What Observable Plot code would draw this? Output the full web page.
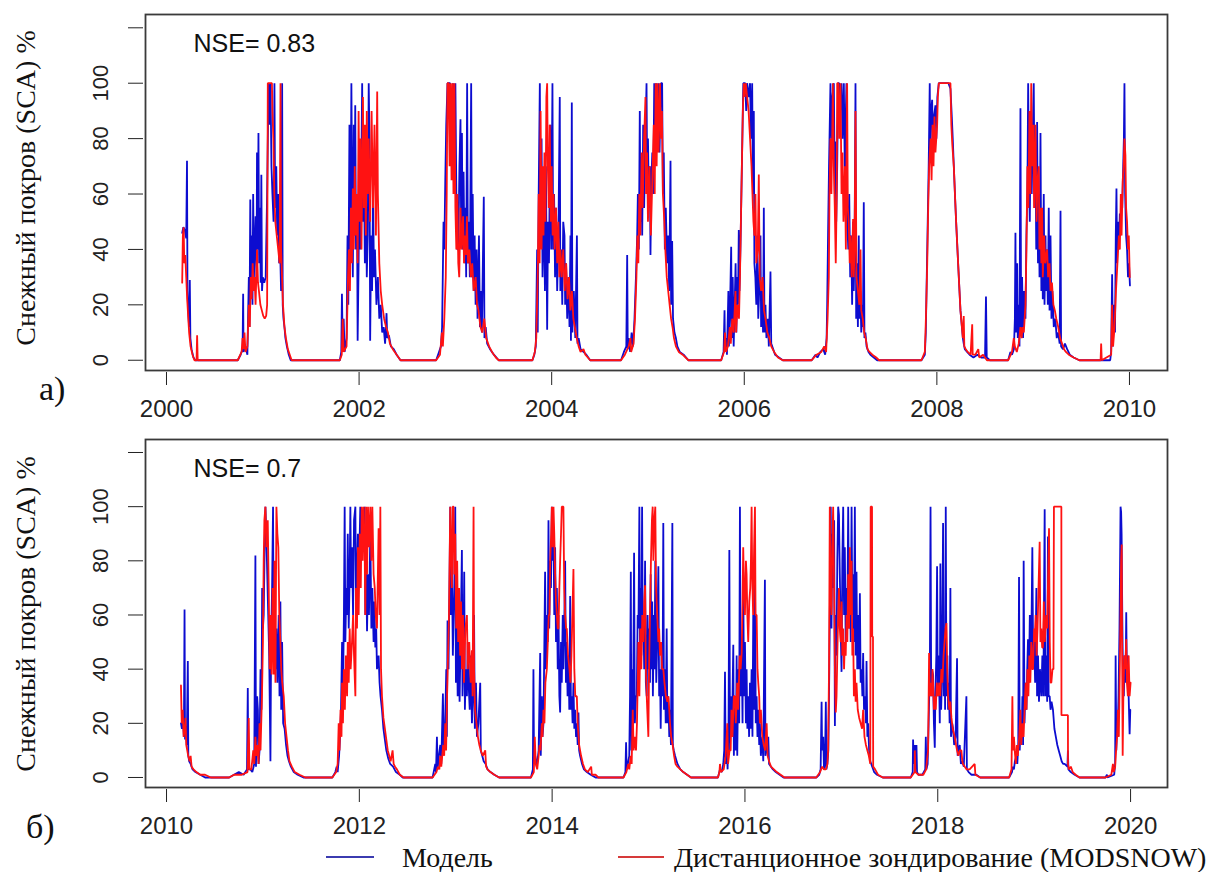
<!DOCTYPE html>
<html>
<head>
<meta charset="utf-8">
<script src="https://cdn.jsdelivr.net/npm/d3@7"></script>
<script src="https://cdn.jsdelivr.net/npm/@observablehq/plot@0.6"></script>
<style>
  body { margin: 0; background: #fff; }
  #root { position: relative; width: 1231px; height: 872px; background: #fff; overflow: hidden; }
  .abs { position: absolute; }
  .serif { font-family: "Liberation Serif", "Times New Roman", serif; color: #111; white-space: nowrap; }
  .ytitle { font-size: 28px; transform: translate(-50%, -50%) rotate(-90deg); }
  .plab { font-size: 34px; }
  .leg { font-size: 28px; line-height: 1; }
  .legline { height: 2px; }
</style>
</head>
<body>
<div id="root">
  <div id="pa" class="abs" style="left:0;top:0"></div>
  <div id="pb" class="abs" style="left:0;top:425px"></div>
  <div class="abs serif ytitle" style="left:26px;top:188px">Снежный покров (SCA) %</div>
  <div class="abs serif ytitle" style="left:26px;top:614px">Снежный покров (SCA) %</div>
  <div class="abs serif plab" style="left:39px;top:370px">а)</div>
  <div class="abs serif plab" style="left:26px;top:808px">б)</div>
  <div class="abs legline" style="left:326px;top:856px;width:48px;background:#3b3bb0"></div>
  <div class="abs serif leg" style="left:402px;top:844px">Модель</div>
  <div class="abs legline" style="left:618px;top:856px;width:46px;background:#d63a3a"></div>
  <div class="abs serif leg" style="left:674px;top:844px">Дистанционное зондирование (MODSNOW)</div>
</div>
<script>
// ---- Tick values and labels ----
const yTicks = [0, 20, 40, 60, 80, 100, 120];
const yTickLabels = [0, 20, 40, 60, 80, 100];
const xTicksA = [2000, 2002, 2004, 2006, 2008, 2010];
const xTicksB = [2010, 2012, 2014, 2016, 2018, 2020];
const nseA = "NSE= 0.83";
const nseB = "NSE= 0.7";

// ---- Panel a: model (blue), [decimal year, SCA %] ----
const modelA = [
[2000.163,46],[2000.175,48],[2000.19,47],[2000.205,44],[2000.213,72],[2000.218,25],[2000.225,18],[2000.235,12],[2000.242,29],[2000.248,8],[2000.26,4],[2000.28,1],[2000.30,0],
[2000.74,0],[2000.77,2],[2000.79,4],[2000.796,24],[2000.80,3],[2000.82,5],[2000.84,2],[2000.855,30],[2000.862,12],[2000.87,58],[2000.878,25],[2000.885,45],[2000.893,20],[2000.90,60],[2000.908,30],[2000.915,38],[2000.925,52],[2000.935,30],[2000.94,75],[2000.948,40],[2000.955,82],[2000.962,35],[2000.97,55],[2000.978,28],[2000.985,67],[2000.992,25],[2001.0,30],[2001.015,28],[2001.03,30],[2001.045,60],[2001.06,100],[2001.07,85],[2001.08,100],[2001.09,70],[2001.10,60],[2001.112,50],[2001.121,100],[2001.128,55],[2001.14,70],[2001.15,45],[2001.16,60],[2001.17,35],[2001.18,40],[2001.19,25],[2001.201,100],[2001.207,20],[2001.215,15],[2001.225,12],[2001.235,8],[2001.25,5],[2001.27,2],[2001.29,0],
[2001.80,0],[2001.815,3],[2001.822,24],[2001.83,5],[2001.84,15],[2001.85,3],[2001.87,8],[2001.88,45],[2001.888,20],[2001.90,85],[2001.91,40],[2001.92,100],[2001.928,60],[2001.935,30],[2001.945,85],[2001.952,45],[2001.96,92],[2001.968,40],[2001.978,60],[2001.985,7],[2001.995,35],[2002.005,75],[2002.015,40],[2002.032,100],[2002.04,50],[2002.05,70],[2002.06,35],[2002.07,60],[2002.08,30],[2002.09,45],[2002.10,100],[2002.108,80],[2002.115,7],[2002.125,45],[2002.135,25],[2002.145,60],[2002.155,30],[2002.165,40],[2002.18,20],[2002.195,30],[2002.21,15],[2002.225,20],[2002.24,10],[2002.255,12],[2002.27,6],[2002.285,17],[2002.292,8],[2002.31,9],[2002.33,5],[2002.36,4],[2002.39,2],[2002.43,0],
[2002.80,0],[2002.83,3],[2002.85,5],[2002.862,12],[2002.877,50],[2002.885,40],[2002.895,65],[2002.905,85],[2002.918,100],[2002.93,100],[2002.945,100],[2002.96,90],[2002.975,100],[2002.99,85],[2003.0,100],[2003.01,60],[2003.02,40],[2003.03,40],[2003.042,70],[2003.053,87],[2003.06,45],[2003.068,82],[2003.075,40],[2003.085,68],[2003.095,35],[2003.105,55],[2003.112,30],[2003.122,100],[2003.13,35],[2003.14,50],[2003.15,30],[2003.164,100],[2003.172,30],[2003.18,60],[2003.19,25],[2003.20,45],[2003.21,20],[2003.22,40],[2003.23,15],[2003.245,45],[2003.255,12],[2003.265,25],[2003.275,10],[2003.295,59],[2003.302,8],[2003.315,12],[2003.33,6],[2003.36,4],[2003.40,2],[2003.45,0],
[2003.80,0],[2003.82,2],[2003.835,5],[2003.849,40],[2003.855,10],[2003.865,60],[2003.877,100],[2003.885,50],[2003.895,80],[2003.905,30],[2003.918,60],[2003.93,25],[2003.94,70],[2003.953,11],[2003.962,50],[2003.972,35],[2003.985,85],[2003.995,40],[2004.008,100],[2004.015,40],[2004.025,60],[2004.035,30],[2004.045,55],[2004.057,25],[2004.07,45],[2004.084,95],[2004.09,25],[2004.10,40],[2004.11,20],[2004.12,50],[2004.133,45],[2004.14,20],[2004.15,35],[2004.161,15],[2004.175,30],[2004.185,12],[2004.195,45],[2004.2,7],[2004.209,93],[2004.215,10],[2004.23,25],[2004.245,8],[2004.262,45],[2004.268,6],[2004.28,8],[2004.30,4],[2004.33,3],[2004.36,2],[2004.40,0],
[2004.72,0],[2004.75,3],[2004.775,5],[2004.784,38],[2004.79,4],[2004.80,8],[2004.815,3],[2004.83,10],[2004.845,5],[2004.86,15],[2004.875,30],[2004.888,45],[2004.895,60],[2004.905,40],[2004.915,90],[2004.922,50],[2004.93,70],[2004.94,45],[2004.95,85],[2004.96,55],[2004.97,75],[2004.985,100],[2004.992,60],[2005.0,80],[2005.01,55],[2005.02,70],[2005.026,38],[2005.035,65],[2005.045,75],[2005.055,60],[2005.065,100],[2005.075,80],[2005.085,100],[2005.095,85],[2005.11,100],[2005.12,75],[2005.135,100],[2005.147,100],[2005.155,60],[2005.164,75],[2005.175,40],[2005.185,55],[2005.199,35],[2005.21,45],[2005.22,25],[2005.234,72],[2005.24,20],[2005.251,43],[2005.26,15],[2005.275,10],[2005.29,8],[2005.305,5],[2005.33,3],[2005.37,2],[2005.42,0],
[2005.76,0],[2005.785,3],[2005.795,18],[2005.80,4],[2005.81,8],[2005.82,2],[2005.835,25],[2005.84,5],[2005.85,15],[2005.864,41],[2005.87,8],[2005.88,30],[2005.89,5],[2005.90,20],[2005.91,35],[2005.918,10],[2005.926,30],[2005.935,20],[2005.943,47],[2005.95,25],[2005.96,40],[2005.97,60],[2005.98,80],[2005.99,100],[2006.0,100],[2006.01,100],[2006.02,90],[2006.03,100],[2006.045,95],[2006.06,100],[2006.07,80],[2006.082,100],[2006.09,60],[2006.099,90],[2006.105,35],[2006.115,30],[2006.125,20],[2006.135,45],[2006.145,15],[2006.155,25],[2006.168,45],[2006.175,12],[2006.185,25],[2006.195,10],[2006.203,55],[2006.21,10],[2006.22,20],[2006.23,8],[2006.245,15],[2006.255,5],[2006.272,32],[2006.28,6],[2006.30,4],[2006.32,2],[2006.36,1],[2006.40,0],
[2006.70,0],[2006.74,2],[2006.76,1],[2006.79,3],[2006.82,4],[2006.84,2],[2006.855,8],[2006.861,20],[2006.87,45],[2006.88,70],[2006.89,90],[2006.895,100],[2006.905,80],[2006.915,95],[2006.93,100],[2006.94,60],[2006.947,79],[2006.955,50],[2006.965,70],[2006.975,100],[2006.985,100],[2006.995,90],[2007.01,100],[2007.02,80],[2007.034,100],[2007.045,65],[2007.055,90],[2007.061,100],[2007.07,50],[2007.08,40],[2007.09,60],[2007.10,30],[2007.11,45],[2007.12,20],[2007.13,50],[2007.137,25],[2007.145,40],[2007.155,100],[2007.162,15],[2007.17,35],[2007.18,12],[2007.189,45],[2007.195,15],[2007.205,25],[2007.215,10],[2007.225,20],[2007.232,12],[2007.241,57],[2007.248,8],[2007.258,10],[2007.27,5],[2007.29,3],[2007.31,2],[2007.345,1],[2007.38,0],
[2007.84,0],[2007.875,2],[2007.885,10],[2007.895,30],[2007.905,50],[2007.915,70],[2007.926,100],[2007.932,75],[2007.94,90],[2007.951,94],[2007.96,75],[2007.97,88],[2007.985,92],[2007.995,80],[2008.005,95],[2008.02,100],[2008.04,100],[2008.06,100],[2008.08,100],[2008.10,100],[2008.12,100],[2008.141,98],[2008.155,88],[2008.165,80],[2008.176,70],[2008.19,58],[2008.2,50],[2008.211,42],[2008.225,32],[2008.235,25],[2008.245,18],[2008.26,12],[2008.27,8],[2008.279,6],[2008.29,4],[2008.314,3],[2008.34,2],[2008.38,1],[2008.42,2],[2008.46,1],[2008.50,1],[2008.51,23],[2008.518,1],[2008.55,0],
[2008.74,0],[2008.764,3],[2008.78,2],[2008.80,4],[2008.81,15],[2008.816,46],[2008.822,10],[2008.834,35],[2008.84,8],[2008.85,20],[2008.858,5],[2008.868,91],[2008.875,10],[2008.885,30],[2008.895,8],[2008.905,25],[2008.92,15],[2008.93,45],[2008.94,60],[2008.948,100],[2008.955,70],[2008.965,50],[2008.975,85],[2008.985,60],[2008.995,80],[2009.006,100],[2009.015,55],[2009.024,75],[2009.032,40],[2009.041,86],[2009.05,35],[2009.058,60],[2009.066,30],[2009.076,82],[2009.085,25],[2009.093,50],[2009.10,22],[2009.11,60],[2009.118,20],[2009.128,45],[2009.135,25],[2009.145,40],[2009.152,20],[2009.162,55],[2009.17,18],[2009.18,45],[2009.19,15],[2009.20,25],[2009.214,12],[2009.23,15],[2009.245,8],[2009.26,10],[2009.275,6],[2009.284,54],[2009.29,5],[2009.31,4],[2009.33,6],[2009.353,4],[2009.38,2],[2009.42,1],[2009.48,0],
[2009.80,0],[2009.81,3],[2009.82,31],[2009.828,5],[2009.84,20],[2009.85,10],[2009.858,45],[2009.865,62],[2009.872,35],[2009.88,50],[2009.89,40],[2009.9,53],[2009.907,45],[2009.915,60],[2009.925,55],[2009.935,70],[2009.942,80],[2009.948,100],[2009.955,60],[2009.965,45],[2009.975,40],[2009.985,30],[2009.995,35],[2010.005,27]
];

// ---- Panel a: remote sensing MODSNOW (red) ----
const modsA = [
[2000.163,28],[2000.17,45],[2000.178,48],[2000.185,35],[2000.195,38],[2000.205,30],[2000.215,22],[2000.225,16],[2000.235,10],[2000.25,5],[2000.27,2],[2000.29,0],[2000.312,0],[2000.318,9],[2000.324,0],
[2000.74,0],[2000.78,3],[2000.79,8],[2000.80,4],[2000.81,10],[2000.82,3],[2000.84,5],[2000.855,20],[2000.865,12],[2000.875,30],[2000.885,22],[2000.895,35],[2000.905,25],[2000.915,30],[2000.925,20],[2000.94,40],[2000.95,28],[2000.96,25],[2000.975,20],[2000.99,18],[2001.005,16],[2001.02,15],[2001.035,16],[2001.045,20],[2001.052,100],[2001.07,100],[2001.085,100],[2001.095,100],[2001.10,90],[2001.11,80],[2001.12,60],[2001.13,50],[2001.145,45],[2001.16,40],[2001.175,35],[2001.184,100],[2001.19,40],[2001.20,30],[2001.21,20],[2001.225,12],[2001.24,8],[2001.26,4],[2001.28,2],[2001.30,0],
[2001.80,0],[2001.82,2],[2001.83,15],[2001.84,3],[2001.87,5],[2001.885,30],[2001.895,40],[2001.905,25],[2001.915,55],[2001.925,35],[2001.935,62],[2001.945,40],[2001.955,70],[2001.965,45],[2001.975,60],[2001.985,35],[2001.995,90],[2002.005,50],[2002.015,80],[2002.025,40],[2002.04,95],[2002.05,55],[2002.06,85],[2002.07,45],[2002.08,90],[2002.09,60],[2002.10,80],[2002.115,50],[2002.13,90],[2002.145,55],[2002.16,85],[2002.175,45],[2002.188,97],[2002.195,60],[2002.21,35],[2002.225,25],[2002.24,20],[2002.26,15],[2002.28,12],[2002.30,10],[2002.32,6],[2002.35,4],[2002.39,2],[2002.43,0],
[2002.80,0],[2002.84,2],[2002.86,10],[2002.87,5],[2002.885,15],[2002.90,30],[2002.91,60],[2002.918,100],[2002.93,100],[2002.94,70],[2002.95,100],[2002.96,65],[2002.97,100],[2002.98,60],[2002.99,100],[2003.0,55],[2003.01,40],[2003.02,60],[2003.03,35],[2003.04,30],[2003.053,55],[2003.065,40],[2003.08,52],[2003.09,35],[2003.10,45],[2003.11,38],[2003.12,52],[2003.13,35],[2003.145,40],[2003.16,30],[2003.175,35],[2003.19,25],[2003.21,30],[2003.225,20],[2003.24,18],[2003.26,12],[2003.28,10],[2003.30,15],[2003.32,8],[2003.35,5],[2003.38,3],[2003.42,1],[2003.45,0],
[2003.80,0],[2003.825,3],[2003.84,8],[2003.855,30],[2003.865,60],[2003.875,35],[2003.885,90],[2003.895,40],[2003.905,70],[2003.915,45],[2003.925,75],[2003.935,50],[2003.945,95],[2003.953,100],[2003.96,70],[2003.97,55],[2003.98,85],[2003.99,50],[2004.0,70],[2004.01,45],[2004.02,60],[2004.03,40],[2004.045,55],[2004.057,35],[2004.07,50],[2004.08,30],[2004.091,40],[2004.105,30],[2004.12,40],[2004.135,25],[2004.15,35],[2004.165,22],[2004.18,30],[2004.195,18],[2004.21,25],[2004.225,15],[2004.24,12],[2004.26,8],[2004.28,5],[2004.30,3],[2004.33,4],[2004.35,2],[2004.40,0],
[2004.72,0],[2004.76,2],[2004.80,5],[2004.818,8],[2004.825,3],[2004.85,6],[2004.865,15],[2004.88,30],[2004.89,45],[2004.90,35],[2004.91,60],[2004.92,45],[2004.935,75],[2004.945,55],[2004.96,80],[2004.974,95],[2004.98,60],[2004.99,75],[2005.0,50],[2005.015,70],[2005.03,45],[2005.045,65],[2005.06,85],[2005.07,60],[2005.08,100],[2005.09,70],[2005.10,100],[2005.11,75],[2005.125,100],[2005.135,80],[2005.145,90],[2005.155,60],[2005.17,50],[2005.18,40],[2005.195,30],[2005.21,25],[2005.225,20],[2005.24,15],[2005.255,12],[2005.27,8],[2005.29,5],[2005.32,3],[2005.36,2],[2005.42,0],
[2005.76,0],[2005.79,3],[2005.80,10],[2005.81,3],[2005.83,5],[2005.85,12],[2005.86,6],[2005.875,15],[2005.89,10],[2005.909,25],[2005.915,10],[2005.93,20],[2005.945,15],[2005.955,30],[2005.965,50],[2005.975,70],[2005.985,90],[2005.995,100],[2006.005,95],[2006.015,100],[2006.03,95],[2006.045,90],[2006.06,80],[2006.075,70],[2006.085,60],[2006.095,50],[2006.105,45],[2006.116,60],[2006.125,35],[2006.14,40],[2006.151,67],[2006.16,30],[2006.175,25],[2006.19,30],[2006.205,18],[2006.22,15],[2006.24,10],[2006.26,8],[2006.28,5],[2006.31,3],[2006.35,1],[2006.40,0],
[2006.70,0],[2006.75,2],[2006.80,3],[2006.83,5],[2006.85,3],[2006.865,15],[2006.878,30],[2006.885,60],[2006.895,80],[2006.905,60],[2006.913,80],[2006.92,100],[2006.93,70],[2006.94,55],[2006.95,35],[2006.96,60],[2006.965,100],[2006.975,100],[2006.985,80],[2006.999,100],[2007.01,60],[2007.02,75],[2007.03,50],[2007.045,70],[2007.055,40],[2007.068,100],[2007.075,55],[2007.085,50],[2007.095,35],[2007.103,45],[2007.115,30],[2007.13,51],[2007.137,30],[2007.145,40],[2007.155,90],[2007.165,30],[2007.18,25],[2007.195,20],[2007.207,40],[2007.215,18],[2007.23,15],[2007.245,10],[2007.26,8],[2007.28,4],[2007.30,3],[2007.33,2],[2007.37,1],[2007.40,0],
[2007.84,0],[2007.875,3],[2007.882,10],[2007.89,20],[2007.90,35],[2007.91,55],[2007.92,70],[2007.935,80],[2007.945,65],[2007.955,85],[2007.965,70],[2007.975,88],[2007.985,75],[2008.003,85],[2008.01,95],[2008.02,100],[2008.04,100],[2008.06,100],[2008.08,100],[2008.10,100],[2008.12,100],[2008.141,100],[2008.15,85],[2008.16,78],[2008.176,70],[2008.19,58],[2008.2,50],[2008.211,42],[2008.225,32],[2008.235,25],[2008.245,18],[2008.26,12],[2008.27,8],[2008.279,16],[2008.285,5],[2008.30,4],[2008.32,3],[2008.35,2],[2008.367,13],[2008.372,2],[2008.40,2],[2008.43,4],[2008.44,1],[2008.48,2],[2008.52,0],
[2008.74,0],[2008.78,3],[2008.799,8],[2008.81,5],[2008.83,3],[2008.85,6],[2008.868,12],[2008.88,8],[2008.89,12],[2008.903,10],[2008.92,20],[2008.93,40],[2008.94,70],[2008.95,55],[2008.962,90],[2008.972,60],[2008.98,100],[2008.99,70],[2009.0,85],[2009.01,55],[2009.024,85],[2009.035,50],[2009.045,65],[2009.058,70],[2009.065,40],[2009.075,55],[2009.085,35],[2009.093,55],[2009.10,30],[2009.115,45],[2009.125,35],[2009.145,40],[2009.155,30],[2009.17,35],[2009.18,25],[2009.195,28],[2009.21,20],[2009.225,18],[2009.24,15],[2009.26,12],[2009.28,8],[2009.30,6],[2009.32,4],[2009.34,3],[2009.37,2],[2009.42,1],[2009.48,0],
[2009.70,0],[2009.706,6],[2009.712,0],[2009.81,2],[2009.82,20],[2009.83,5],[2009.845,12],[2009.86,25],[2009.875,35],[2009.89,45],[2009.90,40],[2009.91,60],[2009.918,45],[2009.93,65],[2009.94,70],[2009.948,80],[2009.958,74],[2009.965,55],[2009.975,50],[2009.985,40],[2009.993,45],[2010.003,30]
];

// ---- Panel б: model (blue) ----
const modelB = [
[2010.15,20],[2010.16,18],[2010.17,22],[2010.18,15],[2010.187,62],[2010.192,14],[2010.20,19],[2010.21,12],[2010.221,43],[2010.226,8],[2010.235,6],[2010.25,5],[2010.27,3],[2010.30,2],[2010.35,1],[2010.40,0],
[2010.65,0],[2010.70,1],[2010.75,2],[2010.80,1],[2010.835,3],[2010.843,33],[2010.848,3],[2010.87,3],[2010.89,2],[2010.91,5],[2010.922,82],[2010.928,4],[2010.94,30],[2010.948,25],[2010.955,5],[2010.965,10],[2010.975,40],[2010.985,25],[2010.992,70],[2011.0,55],[2011.008,60],[2011.018,85],[2011.026,100],[2011.035,90],[2011.045,75],[2011.055,60],[2011.065,45],[2011.078,6],[2011.085,50],[2011.095,70],[2011.105,100],[2011.112,45],[2011.12,60],[2011.13,40],[2011.14,55],[2011.15,35],[2011.164,60],[2011.172,30],[2011.181,65],[2011.19,25],[2011.199,50],[2011.21,20],[2011.225,18],[2011.24,12],[2011.255,8],[2011.27,6],[2011.29,4],[2011.32,2],[2011.36,1],[2011.42,0],
[2011.72,0],[2011.751,2],[2011.765,4],[2011.775,2],[2011.79,8],[2011.80,15],[2011.81,25],[2011.821,50],[2011.83,30],[2011.84,60],[2011.848,100],[2011.855,50],[2011.865,70],[2011.873,60],[2011.88,90],[2011.89,55],[2011.9,75],[2011.907,100],[2011.915,70],[2011.924,85],[2011.935,60],[2011.945,95],[2011.959,100],[2011.965,65],[2011.976,75],[2011.985,90],[2011.993,70],[2012.01,100],[2012.02,80],[2012.03,95],[2012.045,85],[2012.055,100],[2012.062,60],[2012.07,80],[2012.08,54],[2012.09,75],[2012.1,60],[2012.114,90],[2012.125,55],[2012.135,70],[2012.148,50],[2012.155,65],[2012.166,48],[2012.175,55],[2012.183,40],[2012.2,45],[2012.21,35],[2012.22,30],[2012.235,25],[2012.25,18],[2012.265,14],[2012.28,10],[2012.3,7],[2012.32,5],[2012.35,4],[2012.38,2],[2012.42,1],[2012.45,0],
[2012.76,0],[2012.788,5],[2012.795,2],[2012.805,15],[2012.812,3],[2012.825,8],[2012.84,12],[2012.85,5],[2012.867,31],[2012.875,10],[2012.89,20],[2012.902,40],[2012.908,15],[2012.915,58],[2012.925,40],[2012.935,70],[2012.943,100],[2012.95,60],[2012.96,80],[2012.97,45],[2012.985,70],[2012.995,100],[2013.002,35],[2013.012,60],[2013.02,30],[2013.029,55],[2013.04,28],[2013.05,50],[2013.064,84],[2013.07,30],[2013.08,45],[2013.088,76],[2013.095,25],[2013.105,40],[2013.116,30],[2013.125,50],[2013.133,35],[2013.145,25],[2013.155,45],[2013.168,20],[2013.18,30],[2013.19,60],[2013.198,18],[2013.21,35],[2013.22,15],[2013.235,20],[2013.254,35],[2013.26,10],[2013.275,8],[2013.29,6],[2013.31,5],[2013.33,3],[2013.36,2],[2013.4,1],[2013.45,0],
[2013.78,0],[2013.80,3],[2013.806,40],[2013.812,5],[2013.825,8],[2013.841,4],[2013.86,10],[2013.876,46],[2013.882,8],[2013.893,30],[2013.9,15],[2013.91,20],[2013.918,45],[2013.927,76],[2013.935,40],[2013.945,60],[2013.955,50],[2013.962,95],[2013.97,55],[2013.98,80],[2013.988,70],[2013.997,100],[2014.005,80],[2014.014,90],[2014.022,60],[2014.031,85],[2014.04,50],[2014.049,70],[2014.058,40],[2014.066,60],[2014.075,30],[2014.083,24],[2014.092,50],[2014.1,35],[2014.11,60],[2014.117,40],[2014.125,55],[2014.135,80],[2014.143,35],[2014.152,50],[2014.16,30],[2014.17,45],[2014.178,25],[2014.187,67],[2014.195,25],[2014.204,30],[2014.212,20],[2014.221,35],[2014.23,18],[2014.238,25],[2014.248,15],[2014.256,20],[2014.265,12],[2014.273,24],[2014.28,10],[2014.29,8],[2014.31,5],[2014.33,3],[2014.36,2],[2014.4,1],[2014.45,0],
[2014.74,0],[2014.76,2],[2014.767,13],[2014.773,3],[2014.785,5],[2014.8,8],[2014.808,30],[2014.816,76],[2014.822,10],[2014.83,40],[2014.838,15],[2014.85,83],[2014.858,20],[2014.87,30],[2014.878,30],[2014.887,60],[2014.895,55],[2014.905,100],[2014.912,40],[2014.92,70],[2014.925,45],[2014.933,100],[2014.94,50],[2014.946,60],[2014.955,40],[2014.964,80],[2014.972,35],[2014.981,30],[2014.99,60],[2014.998,40],[2015.008,55],[2015.015,35],[2015.022,75],[2015.03,40],[2015.038,65],[2015.045,30],[2015.055,60],[2015.062,40],[2015.07,80],[2015.08,35],[2015.09,50],[2015.102,78],[2015.11,30],[2015.119,40],[2015.126,18],[2015.135,45],[2015.145,30],[2015.153,94],[2015.16,25],[2015.17,40],[2015.178,20],[2015.188,55],[2015.195,20],[2015.205,30],[2015.215,15],[2015.223,25],[2015.232,12],[2015.247,94],[2015.252,12],[2015.262,10],[2015.275,8],[2015.3,5],[2015.33,3],[2015.36,2],[2015.4,1],[2015.44,0],
[2015.72,0],[2015.741,3],[2015.76,2],[2015.775,5],[2015.785,10],[2015.793,39],[2015.8,5],[2015.81,12],[2015.82,3],[2015.83,20],[2015.838,84],[2015.845,10],[2015.852,30],[2015.865,15],[2015.879,49],[2015.885,8],[2015.896,30],[2015.905,10],[2015.914,45],[2015.92,8],[2015.931,40],[2015.94,20],[2015.948,100],[2015.955,30],[2015.966,50],[2015.975,20],[2015.982,76],[2015.99,30],[2016.0,50],[2016.01,20],[2016.017,40],[2016.025,18],[2016.034,30],[2016.043,15],[2016.052,35],[2016.06,18],[2016.069,40],[2016.078,15],[2016.086,60],[2016.095,25],[2016.104,75],[2016.112,20],[2016.121,30],[2016.13,15],[2016.138,25],[2016.148,12],[2016.155,20],[2016.165,8],[2016.18,15],[2016.19,6],[2016.207,73],[2016.212,8],[2016.225,10],[2016.242,15],[2016.25,5],[2016.27,4],[2016.29,3],[2016.32,2],[2016.36,1],[2016.4,0],
[2016.74,0],[2016.77,1],[2016.785,3],[2016.795,28],[2016.8,10],[2016.812,15],[2016.82,3],[2016.83,5],[2016.839,28],[2016.845,3],[2016.855,5],[2016.865,10],[2016.875,40],[2016.88,60],[2016.89,100],[2016.898,55],[2016.905,90],[2016.915,70],[2016.925,95],[2016.933,19],[2016.94,60],[2016.95,45],[2016.958,80],[2016.967,100],[2016.975,97],[2016.984,75],[2016.993,55],[2017.002,39],[2017.01,80],[2017.019,100],[2017.028,60],[2017.036,85],[2017.045,50],[2017.054,70],[2017.062,60],[2017.071,100],[2017.08,55],[2017.088,80],[2017.097,50],[2017.106,100],[2017.114,60],[2017.122,75],[2017.13,50],[2017.14,100],[2017.148,45],[2017.157,76],[2017.165,40],[2017.175,60],[2017.183,40],[2017.192,68],[2017.2,35],[2017.21,40],[2017.218,30],[2017.226,46],[2017.235,25],[2017.245,30],[2017.255,20],[2017.261,43],[2017.27,15],[2017.278,20],[2017.288,10],[2017.3,6],[2017.32,4],[2017.34,2],[2017.37,1],[2017.43,0],
[2017.72,0],[2017.74,2],[2017.744,14],[2017.75,5],[2017.762,12],[2017.77,3],[2017.779,12],[2017.785,2],[2017.8,1],[2017.84,1],[2017.87,3],[2017.876,15],[2017.882,3],[2017.895,5],[2017.905,20],[2017.918,40],[2017.925,100],[2017.932,30],[2017.94,40],[2017.951,38],[2017.96,20],[2017.969,11],[2017.975,30],[2017.985,45],[2017.993,78],[2018.0,30],[2018.01,45],[2018.021,20],[2018.027,79],[2018.035,25],[2018.045,40],[2018.055,94],[2018.062,30],[2018.07,55],[2018.076,25],[2018.083,100],[2018.09,30],[2018.1,45],[2018.107,25],[2018.115,35],[2018.123,20],[2018.131,70],[2018.137,15],[2018.15,20],[2018.159,18],[2018.17,12],[2018.185,15],[2018.2,44],[2018.206,8],[2018.215,10],[2018.228,12],[2018.24,5],[2018.255,6],[2018.27,4],[2018.297,30],[2018.302,3],[2018.32,2],[2018.35,1],[2018.4,1],[2018.44,0],
[2018.74,0],[2018.77,2],[2018.78,4],[2018.79,3],[2018.8,6],[2018.815,8],[2018.825,5],[2018.835,12],[2018.843,74],[2018.85,10],[2018.86,20],[2018.87,15],[2018.878,30],[2018.885,12],[2018.891,80],[2018.9,20],[2018.91,35],[2018.92,25],[2018.928,40],[2018.936,51],[2018.945,35],[2018.955,60],[2018.965,40],[2018.972,55],[2018.981,85],[2018.99,40],[2019.0,50],[2019.01,35],[2019.023,70],[2019.03,30],[2019.04,45],[2019.05,28],[2019.06,40],[2019.074,30],[2019.085,45],[2019.095,30],[2019.109,99],[2019.115,30],[2019.126,45],[2019.135,28],[2019.143,89],[2019.15,30],[2019.161,30],[2019.17,25],[2019.18,28],[2019.195,25],[2019.21,18],[2019.225,15],[2019.24,12],[2019.255,10],[2019.27,8],[2019.285,6],[2019.3,5],[2019.316,5],[2019.345,4],[2019.35,10],[2019.355,3],[2019.38,2],[2019.42,1],[2019.47,0],
[2019.74,0],[2019.755,1],[2019.76,0],[2019.83,1],[2019.84,5],[2019.845,45],[2019.852,10],[2019.858,20],[2019.865,15],[2019.875,30],[2019.885,55],[2019.896,100],[2019.902,98],[2019.907,90],[2019.914,60],[2019.92,40],[2019.93,30],[2019.94,45],[2019.948,35],[2019.955,61],[2019.962,35],[2019.972,45],[2019.98,30],[2019.99,16],[2019.997,25]
];

// ---- Panel б: remote sensing MODSNOW (red) ----
const modsB = [
[2010.15,34],[2010.158,20],[2010.168,25],[2010.178,15],[2010.19,18],[2010.197,22],[2010.205,12],[2010.215,10],[2010.225,8],[2010.24,6],[2010.25,8],[2010.26,4],[2010.28,3],[2010.31,2],[2010.35,1],[2010.40,1],[2010.46,0],
[2010.65,0],[2010.70,1],[2010.78,1],[2010.84,2],[2010.853,22],[2010.86,3],[2010.88,3],[2010.90,10],[2010.91,5],[2010.922,15],[2010.93,8],[2010.94,12],[2010.955,5],[2010.965,20],[2010.975,10],[2010.99,30],[2011.0,50],[2011.008,80],[2011.015,95],[2011.026,100],[2011.035,85],[2011.05,95],[2011.06,70],[2011.07,40],[2011.08,60],[2011.09,38],[2011.1,70],[2011.112,38],[2011.12,80],[2011.13,35],[2011.14,100],[2011.15,90],[2011.16,85],[2011.17,60],[2011.181,50],[2011.19,40],[2011.2,35],[2011.216,30],[2011.23,20],[2011.245,15],[2011.26,10],[2011.275,6],[2011.3,4],[2011.33,2],[2011.38,1],[2011.44,0],
[2011.72,0],[2011.76,2],[2011.775,5],[2011.786,20],[2011.795,10],[2011.805,25],[2011.815,15],[2011.821,35],[2011.83,20],[2011.84,40],[2011.85,25],[2011.86,45],[2011.873,30],[2011.88,50],[2011.89,35],[2011.9,55],[2011.91,40],[2011.924,50],[2011.935,60],[2011.945,45],[2011.959,30],[2011.965,70],[2011.976,55],[2011.985,85],[2011.993,60],[2012.005,90],[2012.015,70],[2012.025,100],[2012.035,80],[2012.045,100],[2012.055,85],[2012.062,60],[2012.07,100],[2012.08,75],[2012.09,100],[2012.1,85],[2012.114,100],[2012.125,80],[2012.135,100],[2012.148,75],[2012.16,70],[2012.17,60],[2012.183,55],[2012.2,92],[2012.21,60],[2012.218,100],[2012.225,40],[2012.235,30],[2012.25,22],[2012.265,18],[2012.28,14],[2012.295,10],[2012.31,8],[2012.325,6],[2012.345,10],[2012.356,5],[2012.37,4],[2012.39,3],[2012.42,1],[2012.46,0],
[2012.76,0],[2012.80,2],[2012.815,4],[2012.83,3],[2012.839,8],[2012.85,4],[2012.87,12],[2012.88,8],[2012.891,20],[2012.9,10],[2012.91,30],[2012.92,45],[2012.93,60],[2012.943,100],[2012.95,85],[2012.96,70],[2012.968,100],[2012.977,100],[2012.985,75],[2012.995,90],[2013.005,55],[2013.015,80],[2013.025,50],[2013.035,70],[2013.045,45],[2013.055,65],[2013.065,40],[2013.075,60],[2013.085,35],[2013.1,55],[2013.116,60],[2013.125,40],[2013.14,50],[2013.155,35],[2013.168,47],[2013.175,30],[2013.185,100],[2013.19,40],[2013.2,25],[2013.215,20],[2013.23,15],[2013.245,12],[2013.26,10],[2013.28,8],[2013.306,10],[2013.315,4],[2013.33,3],[2013.36,2],[2013.4,1],[2013.45,0],
[2013.78,0],[2013.81,2],[2013.82,15],[2013.83,5],[2013.845,3],[2013.86,8],[2013.87,12],[2013.88,10],[2013.893,20],[2013.9,15],[2013.91,25],[2013.92,20],[2013.93,35],[2013.945,40],[2013.955,50],[2013.965,60],[2013.972,60],[2013.98,80],[2013.99,90],[2013.997,100],[2014.005,85],[2014.014,100],[2014.022,90],[2014.031,75],[2014.04,65],[2014.049,60],[2014.058,55],[2014.066,55],[2014.075,70],[2014.083,80],[2014.092,90],[2014.1,100],[2014.108,100],[2014.117,100],[2014.125,70],[2014.135,60],[2014.145,55],[2014.152,55],[2014.165,45],[2014.18,40],[2014.19,35],[2014.2,45],[2014.21,60],[2014.221,77],[2014.23,40],[2014.24,30],[2014.256,30],[2014.265,20],[2014.28,12],[2014.3,8],[2014.32,5],[2014.34,3],[2014.37,2],[2014.405,4],[2014.412,1],[2014.45,1],[2014.48,0],
[2014.74,0],[2014.77,2],[2014.79,5],[2014.8,3],[2014.815,8],[2014.825,5],[2014.836,25],[2014.845,10],[2014.86,15],[2014.87,10],[2014.88,20],[2014.895,50],[2014.905,30],[2014.915,55],[2014.925,40],[2014.935,60],[2014.945,50],[2014.955,65],[2014.964,71],[2014.972,40],[2014.981,30],[2014.998,15],[2015.005,40],[2015.015,60],[2015.025,80],[2015.035,95],[2015.043,100],[2015.05,80],[2015.06,95],[2015.07,100],[2015.078,70],[2015.09,60],[2015.102,50],[2015.11,55],[2015.119,45],[2015.13,50],[2015.14,40],[2015.153,40],[2015.165,35],[2015.18,30],[2015.195,28],[2015.205,30],[2015.215,25],[2015.223,20],[2015.235,15],[2015.25,12],[2015.265,8],[2015.28,5],[2015.3,4],[2015.33,3],[2015.36,2],[2015.4,1],[2015.44,0],
[2015.72,0],[2015.735,2],[2015.741,5],[2015.75,2],[2015.78,3],[2015.8,8],[2015.817,20],[2015.825,5],[2015.84,10],[2015.852,10],[2015.86,25],[2015.87,15],[2015.885,30],[2015.896,30],[2015.905,20],[2015.92,35],[2015.93,25],[2015.945,45],[2015.955,40],[2015.966,46],[2015.975,65],[2015.982,85],[2015.99,70],[2016.0,60],[2016.01,80],[2016.017,75],[2016.025,60],[2016.034,50],[2016.045,65],[2016.055,70],[2016.062,80],[2016.069,100],[2016.075,75],[2016.085,60],[2016.095,85],[2016.104,100],[2016.11,60],[2016.121,60],[2016.13,40],[2016.138,35],[2016.148,30],[2016.155,20],[2016.165,25],[2016.18,15],[2016.195,12],[2016.21,10],[2016.225,20],[2016.235,8],[2016.25,6],[2016.27,4],[2016.3,3],[2016.33,2],[2016.37,1],[2016.41,0],
[2016.74,0],[2016.78,2],[2016.8,4],[2016.82,3],[2016.84,3],[2016.855,5],[2016.863,10],[2016.872,40],[2016.88,100],[2016.888,70],[2016.898,60],[2016.905,85],[2016.915,100],[2016.925,70],[2016.933,40],[2016.942,24],[2016.95,30],[2016.958,45],[2016.967,60],[2016.975,70],[2016.984,55],[2016.993,50],[2017.002,65],[2017.01,45],[2017.019,55],[2017.028,40],[2017.036,50],[2017.045,45],[2017.054,60],[2017.062,50],[2017.071,75],[2017.08,55],[2017.088,85],[2017.097,60],[2017.106,80],[2017.114,45],[2017.122,55],[2017.13,30],[2017.14,40],[2017.148,28],[2017.157,35],[2017.17,25],[2017.185,22],[2017.2,20],[2017.215,18],[2017.226,25],[2017.24,15],[2017.255,12],[2017.27,10],[2017.285,8],[2017.3,5],[2017.304,100],[2017.318,100],[2017.32,52],[2017.328,52],[2017.33,4],[2017.35,3],[2017.38,1],[2017.43,0],
[2017.72,0],[2017.76,2],[2017.762,10],[2017.768,2],[2017.8,1],[2017.85,1],[2017.88,3],[2017.89,7],[2017.9,10],[2017.91,46],[2017.918,30],[2017.925,35],[2017.938,30],[2017.945,40],[2017.951,35],[2017.96,25],[2017.97,30],[2017.979,25],[2017.99,35],[2018.003,30],[2018.015,35],[2018.025,30],[2018.038,40],[2018.048,35],[2018.06,45],[2018.07,50],[2018.08,55],[2018.09,57],[2018.098,40],[2018.107,30],[2018.12,25],[2018.13,28],[2018.142,22],[2018.155,18],[2018.176,15],[2018.19,12],[2018.2,10],[2018.215,8],[2018.228,10],[2018.245,10],[2018.255,6],[2018.262,5],[2018.28,4],[2018.3,3],[2018.33,3],[2018.383,5],[2018.39,1],[2018.44,0],
[2018.74,0],[2018.765,3],[2018.774,30],[2018.78,10],[2018.79,15],[2018.798,10],[2018.81,5],[2018.82,12],[2018.83,8],[2018.845,15],[2018.857,25],[2018.865,12],[2018.88,20],[2018.89,15],[2018.9,25],[2018.912,35],[2018.92,25],[2018.93,40],[2018.94,30],[2018.95,45],[2018.96,35],[2018.97,50],[2018.98,40],[2018.988,40],[2019.0,55],[2019.005,50],[2019.015,60],[2019.025,45],[2019.035,55],[2019.045,70],[2019.057,87],[2019.065,50],[2019.074,55],[2019.083,48],[2019.091,48],[2019.1,65],[2019.11,50],[2019.126,60],[2019.135,55],[2019.145,75],[2019.154,92],[2019.162,50],[2019.17,35],[2019.178,35],[2019.19,40],[2019.2,40],[2019.205,100],[2019.24,100],[2019.282,100],[2019.283,23],[2019.35,23],[2019.351,5],[2019.36,3],[2019.38,4],[2019.4,2],[2019.43,1],[2019.47,0],
[2019.74,0],[2019.8,1],[2019.817,5],[2019.825,2],[2019.84,4],[2019.85,10],[2019.86,15],[2019.869,25],[2019.878,15],[2019.888,40],[2019.896,60],[2019.902,80],[2019.908,86],[2019.912,50],[2019.918,8],[2019.925,30],[2019.935,45],[2019.945,40],[2019.955,51],[2019.962,35],[2019.972,30],[2019.98,45],[2019.99,30],[2020.0,35]
];

const SANS = "'Liberation Sans', Arial, Helvetica, sans-serif";

function panel({model, mods, xDomain, xTicks, nse, height, frameBottom}) {
  return Plot.plot({
    width: 1231,
    height,
    marginLeft: 145,
    marginRight: 64,
    marginTop: 14,
    marginBottom: height - frameBottom,
    style: {background: "transparent", fontFamily: SANS, color: "#222", overflow: "visible"},
    x: {type: "linear", domain: xDomain, axis: null},
    y: {type: "linear", domain: [-3.7, 124.8], axis: null},
    marks: [
      Plot.line(model, {x: d => d[0], y: d => d[1], stroke: "#0c0cd0", strokeWidth: 1.8, strokeLinejoin: "miter"}),
      Plot.line(mods, {x: d => d[0], y: d => d[1], stroke: "#ff1212", strokeWidth: 1.8, strokeLinejoin: "miter"}),
      Plot.frame({stroke: "#3a3a3a", strokeWidth: 1.8}),
      Plot.axisX(xTicks, {tickFormat: d => String(d), tickSize: 13, tickPadding: 14, dy: 2, fontSize: 24, label: null, stroke: "#222", fill: "#222"}),
      Plot.axisY(yTicks, {tickSize: 15, dx: -2, fill: "none", label: null, stroke: "#222"}),
      Plot.text(yTickLabels, {y: d => d, text: d => String(d), frameAnchor: "left", dx: -45, rotate: -90, fontSize: 22, fill: "#222", textAnchor: "middle", lineAnchor: "middle"}),
      Plot.text([nse], {text: d => d, frameAnchor: "top-left", dx: 48, dy: 20, textAnchor: "start", lineAnchor: "top", fontSize: 25, fill: "#111"})
    ]
  });
}

document.getElementById("pa").appendChild(panel({
  model: modelA, mods: modsA, xDomain: [1999.782, 2010.395], xTicks: xTicksA, nse: nseA, height: 425, frameBottom: 370
}));
document.getElementById("pb").appendChild(panel({
  model: modelB, mods: modsB, xDomain: [2009.782, 2020.383], xTicks: xTicksB, nse: nseB, height: 447, frameBottom: 362
}));
</script>
</body>
</html>
